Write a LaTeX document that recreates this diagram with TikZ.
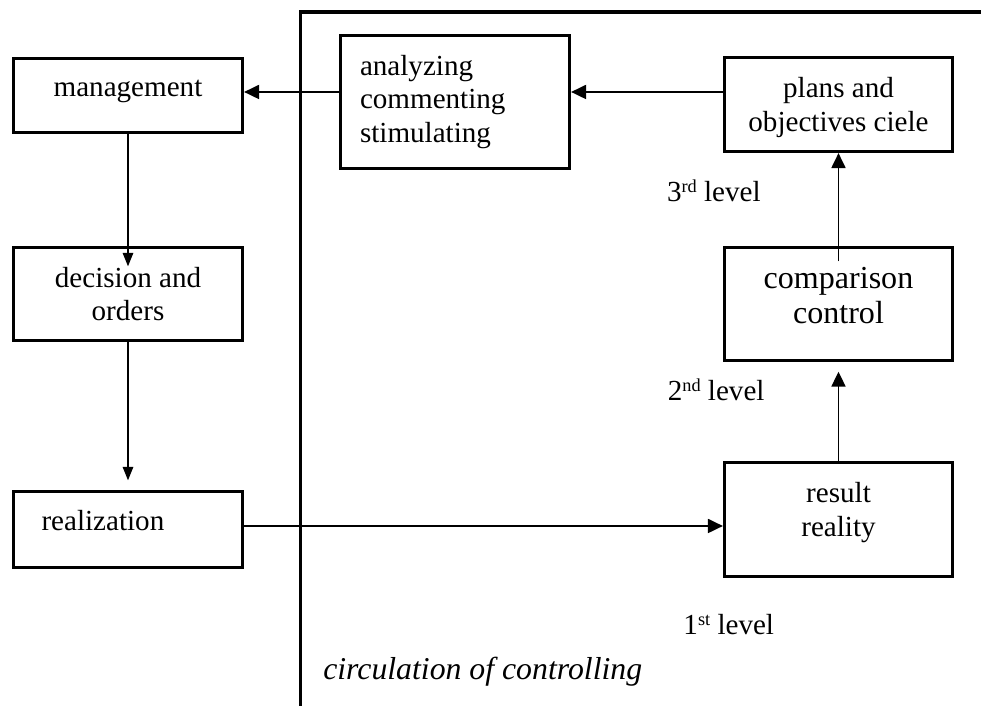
\documentclass[tikz,border=0pt]{standalone}
\usepackage{fontspec}
\setmainfont{Liberation Serif}
\usetikzlibrary{arrows.meta}
\newcommand{\lvlsup}[1]{\raisebox{7pt}{\fontsize{13}{13}\selectfont #1}}
\begin{document}
\begin{tikzpicture}[x=1cm,y=1cm,
  box/.style={draw=customcolor0,line width=2.3pt,inner sep=0pt,minimum width=5.725cm,align=center,font=\fontsize{20.7}{24}\selectfont},
  leftbox/.style={box,align=left,text width=#1},
  lift/.style={text depth=#1},
  bigtext/.style={font=\fontsize{22.8}{25}\selectfont},
  thinarrow/.style={-{Triangle[length=9.5pt,width=7.5pt]},customcolor0,line width=0.75pt},
  midarrow/.style={-{Triangle[length=10.6pt,width=10pt]},customcolor0,line width=1.1pt},
  levellabel/.style={customcolor0,anchor=base west,inner sep=0pt,font=\fontsize{20.7}{24}\selectfont}]
\definecolor{customcolor0}{HTML}{000000}
\useasboundingbox (0,0) rectangle (24.525,17.65);
\draw[customcolor0,line width=2.3pt] (7.5125,-0.2) |- (24.8,17.35);
\node[box,lift=10.2pt,minimum height=1.85cm] (management) at (3.2,15.2625) {management};
\node[leftbox=4.75cm,inner xsep=0.46cm,minimum height=3.325cm] (analyzing) at (11.375,15.1) {analyzing\\commenting\\stimulating};
\node[box,lift=0.3pt,minimum width=5.7cm,minimum height=2.35cm] (plans) at (20.9625,15.0375) {plans and\\objectives ciele};
\node[box,minimum height=2.325cm] (decision) at (3.2,10.3) {decision and\\orders};
\node[box,bigtext,lift=12.8pt,minimum width=5.7cm,minimum height=2.825cm] (comparison) at (20.9625,10.05) {comparison\\control};
\node[leftbox=4.325cm,lift=12.8pt,inner xsep=0.7cm,minimum height=1.9cm] (realization) at (3.2,4.4125) {realization};
\node[box,lift=14.5pt,minimum width=5.7cm,minimum height=2.85cm] (result) at (20.9625,4.6625) {result\\reality};
\coordinate (topline) at (0,15.35);
\coordinate (lowline) at (0,4.5);
\draw[midarrow] (analyzing.west |- topline) -- (management.east |- topline);
\draw[midarrow] (plans.west |- topline) -- (analyzing.east |- topline);
\draw[thinarrow,shorten >=-0.51cm] (management) -- (decision);
\draw[thinarrow,shorten >=0.24cm] (decision) -- (realization);
\draw[midarrow,shorten <=-0.39cm] (comparison) -- (plans);
\draw[midarrow,shorten >=0.24cm] (result) -- (comparison);
\draw[midarrow] (realization.east |- lowline) -- (result.west |- lowline);
\node[levellabel] (level3) at (16.67,12.6) {3\lvlsup{rd} level};
\node[levellabel] (level2) at (16.69,7.625) {2\lvlsup{nd} level};
\node[levellabel] (level1) at (17.08,1.775) {1\lvlsup{st} level};
\node[levellabel,font=\fontsize{22.6}{25}\selectfont\itshape] (circulation) at (8.075,0.65) {circulation of controlling};
\end{tikzpicture}
\end{document}
